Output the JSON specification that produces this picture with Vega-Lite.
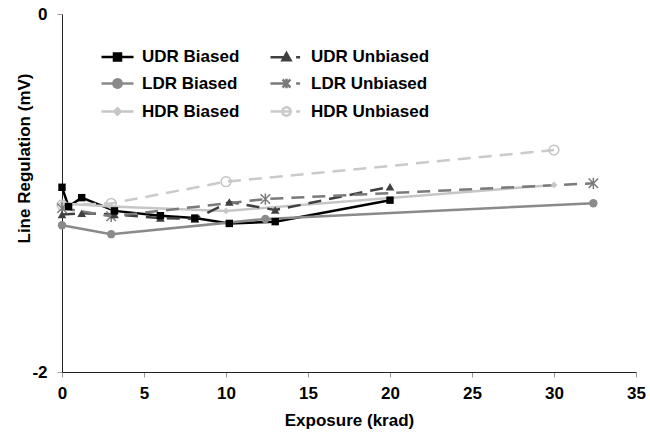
{
  "$schema": "https://vega.github.io/schema/vega-lite/v6.json",
  "width": 574,
  "height": 358,
  "autosize": {"type": "none"},
  "padding": {"left": 62, "top": 14, "right": 14, "bottom": 64},
  "background": "white",
  "config": {
    "font": "Liberation Sans",
    "view": {"stroke": null},
    "axis": {"grid": false, "labelFontWeight": "bold", "labelFontSize": 17, "labelColor": "#000", "titleFontSize": 17, "titleFontWeight": "bold", "titleColor": "#000", "domainColor": "#222", "domainWidth": 1, "tickColor": "#999", "tickSize": 5}
  },
  "data": {"values": [
    {"series": "UDR Biased", "x": 0, "y": -0.968},
    {"series": "UDR Biased", "x": 0.4, "y": -1.076},
    {"series": "UDR Biased", "x": 1.2, "y": -1.026},
    {"series": "UDR Biased", "x": 3.2, "y": -1.10},
    {"series": "UDR Biased", "x": 6.0, "y": -1.127},
    {"series": "UDR Biased", "x": 8.1, "y": -1.14},
    {"series": "UDR Biased", "x": 10.2, "y": -1.17},
    {"series": "UDR Biased", "x": 13.0, "y": -1.16},
    {"series": "UDR Biased", "x": 20.0, "y": -1.04},
    {"series": "UDR Unbiased", "x": 0, "y": -1.12},
    {"series": "UDR Unbiased", "x": 1.2, "y": -1.113},
    {"series": "UDR Unbiased", "x": 3.2, "y": -1.12},
    {"series": "UDR Unbiased", "x": 6.0, "y": -1.14},
    {"series": "UDR Unbiased", "x": 8.1, "y": -1.145},
    {"series": "UDR Unbiased", "x": 10.2, "y": -1.05},
    {"series": "UDR Unbiased", "x": 13.0, "y": -1.095},
    {"series": "UDR Unbiased", "x": 20.0, "y": -0.965},
    {"series": "LDR Biased", "x": 0, "y": -1.18},
    {"series": "LDR Biased", "x": 3.0, "y": -1.23},
    {"series": "LDR Biased", "x": 12.4, "y": -1.145},
    {"series": "LDR Biased", "x": 32.4, "y": -1.057},
    {"series": "LDR Unbiased", "x": 0, "y": -1.085},
    {"series": "LDR Unbiased", "x": 3.0, "y": -1.13},
    {"series": "LDR Unbiased", "x": 12.4, "y": -1.034},
    {"series": "LDR Unbiased", "x": 32.4, "y": -0.946},
    {"series": "HDR Biased", "x": 0, "y": -1.058},
    {"series": "HDR Biased", "x": 3.0, "y": -1.076},
    {"series": "HDR Biased", "x": 10.0, "y": -1.10},
    {"series": "HDR Biased", "x": 30.0, "y": -0.955},
    {"series": "HDR Unbiased", "x": 0, "y": -1.067},
    {"series": "HDR Unbiased", "x": 3.0, "y": -1.058},
    {"series": "HDR Unbiased", "x": 10.0, "y": -0.937},
    {"series": "HDR Unbiased", "x": 30.0, "y": -0.76}
  ]},
  "encoding": {
    "x": {"field": "x", "type": "quantitative", "scale": {"domain": [0, 35], "nice": false, "zero": false},
      "axis": {"values": [0, 5, 10, 15, 20, 25, 30, 35], "title": "Exposure (krad)", "labelPadding": 8, "titlePadding": 11, "labelFlush": false}},
    "y": {"field": "y", "type": "quantitative", "scale": {"domain": [-2, 0], "nice": false},
      "axis": {"values": [-2, 0], "title": "Line Regulation (mV)", "labelPadding": 10, "labelExpr": "datum.value + ''", "labelFlush": false,
        "titleX": -33, "titleY": 144, "titleAngle": -90, "titleAlign": "center", "titleBaseline": "alphabetic"}}
  },
  "layer": [
    {
      "transform": [{"filter": {"field": "series", "oneOf": ["UDR Biased", "LDR Biased", "HDR Biased"]}}],
      "mark": {"type": "line", "strokeWidth": 2.5},
      "encoding": {
        "color": {"field": "series", "type": "nominal",
          "scale": {"domain": ["UDR Biased", "LDR Biased", "HDR Biased", "UDR Unbiased", "LDR Unbiased", "HDR Unbiased"],
                    "range": ["#000000", "#8a8a8a", "#c6c6c6", "#404040", "#7a7a7a", "#cacaca"]},
          "legend": {
            "title": null, "orient": "none", "legendX": 38, "legendY": 25, "columns": 2, "columnPadding": 25, "rowPadding": -17,
            "symbolSize": 1024, "symbolType": "circle", "symbolStrokeWidth": 2.5, "labelOffset": 7, "labelFontSize": 17, "labelFontWeight": "bold", "labelColor": "#000", "labelFont": "Liberation Sans",
            "encode": {"symbols": {"update": {
              "shape": {"signal": "datum.value === 'UDR Biased' ? 'M-1,0H1M-0.22,-0.22H0.22V0.22H-0.22Z' : datum.value === 'LDR Biased' ? 'M-1,0H1M-0.26,0A0.26,0.26 0 1,0 0.26,0A0.26,0.26 0 1,0 -0.26,0Z' : datum.value === 'HDR Biased' ? 'M-1,0H1M0,-0.2L0.2,0L0,0.2L-0.2,0Z' : datum.value === 'UDR Unbiased' ? 'M-1,0H0M0.6,0H0.85M-0.25,0.2L0,-0.25L0.25,0.2Z' : datum.value === 'LDR Unbiased' ? 'M-1,0H0M0.6,0H0.85M-0.25,-0.25L0.25,0.25M-0.25,0.25L0.25,-0.25M0,-0.3V0.3' : 'M-1,0H0.26M0.6,0H0.85M-0.26,0A0.26,0.26 0 1,0 0.26,0A0.26,0.26 0 1,0 -0.26,0Z'"},
              "size": {"value": 1024},
              "fill": {"signal": "datum.value === 'UDR Biased' ? '#000000' : datum.value === 'UDR Unbiased' ? '#404040' : datum.value === 'LDR Biased' ? '#8a8a8a' : datum.value === 'HDR Biased' ? '#c6c6c6' : 'transparent'"},
              "strokeWidth": {"value": 2.5},
              "strokeDash": {"value": [1, 0]},
              "opacity": {"value": 1}
            }}}
          }}
      }
    },
    {
      "transform": [{"filter": {"field": "series", "oneOf": ["UDR Unbiased", "LDR Unbiased", "HDR Unbiased"]}}],
      "mark": {"type": "line", "strokeWidth": 2.5, "strokeDash": [13, 8]},
      "encoding": {
        "color": {"field": "series", "type": "nominal", "legend": null}
      }
    },
    {
      "transform": [{"filter": {"field": "series", "equal": "LDR Biased"}}],
      "mark": {"type": "point", "shape": "circle", "size": 70, "filled": true, "color": "#8a8a8a", "opacity": 1}
    },
    {
      "transform": [{"filter": {"field": "series", "equal": "HDR Biased"}}],
      "mark": {"type": "point", "shape": "diamond", "size": 45, "filled": true, "color": "#c6c6c6", "opacity": 1}
    },
    {
      "transform": [{"filter": {"field": "series", "equal": "HDR Unbiased"}}],
      "mark": {"type": "point", "shape": "circle", "size": 95, "filled": false, "color": "#c4c4c4", "strokeWidth": 1.5, "opacity": 1}
    },
    {
      "transform": [{"filter": {"field": "series", "equal": "LDR Unbiased"}}],
      "mark": {"type": "point", "shape": "M-1,-1L1,1M-1,1L1,-1M0,-1.2V1.2", "size": 90, "filled": false, "color": "#7a7a7a", "strokeWidth": 1.5, "opacity": 1}
    },
    {
      "transform": [{"filter": {"field": "series", "equal": "UDR Unbiased"}}],
      "mark": {"type": "point", "shape": "triangle-up", "size": 75, "filled": true, "color": "#404040", "opacity": 1}
    },
    {
      "transform": [{"filter": {"field": "series", "equal": "UDR Biased"}}],
      "mark": {"type": "point", "shape": "square", "size": 55, "filled": true, "color": "#000000", "opacity": 1}
    }
  ]
}
